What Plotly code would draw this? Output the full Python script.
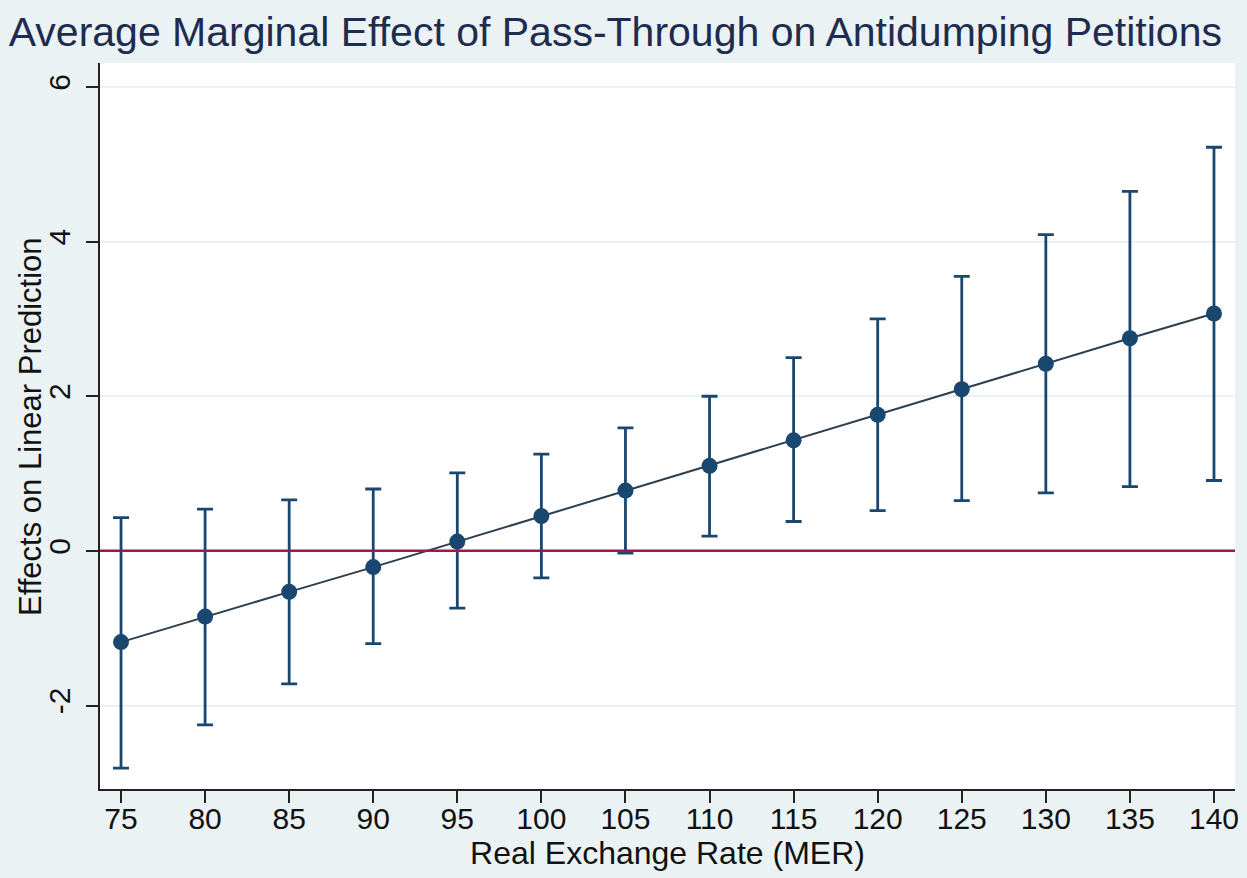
import plotly.graph_objects as go

rate = [75, 80, 85, 90, 95, 100, 105, 110, 115, 120, 125, 130, 135, 140]
effect = [-1.18, -0.85, -0.53, -0.21, 0.12, 0.45, 0.78, 1.10, 1.43, 1.76, 2.09, 2.42, 2.75, 3.07]
upper = [0.43, 0.54, 0.66, 0.80, 1.01, 1.25, 1.59, 2.00, 2.50, 3.00, 3.55, 4.09, 4.65, 5.22]
lower = [-2.81, -2.25, -1.72, -1.20, -0.74, -0.35, -0.03, 0.19, 0.38, 0.52, 0.65, 0.75, 0.83, 0.91]
x_ticks = list(range(75, 141, 5))
y_ticks = [-2, 0, 2, 4, 6]
y_labels = ["-2", "0", "2", "4", "6"]

navy = "#1a476f"
bg = "#eaf2f3"

fig = go.Figure()
fig.add_trace(go.Scatter(
    x=rate, y=effect, mode="lines+markers",
    line=dict(color="#2d3e50", width=2),
    marker=dict(color=navy, size=16),
    error_y=dict(type="data", symmetric=False,
                 array=[u - e for u, e in zip(upper, effect)],
                 arrayminus=[e - l for e, l in zip(effect, lower)],
                 color=navy, thickness=2.8, width=8),
    showlegend=False,
))
fig.add_hline(y=0, line=dict(color="#a0184a", width=2.5))

font_fam = "Liberation Sans, Arial, sans-serif"
fig.update_layout(
    width=1247, height=878,
    paper_bgcolor=bg, plot_bgcolor="white",
    margin=dict(l=100, r=12, t=63, b=89),
    font=dict(family=font_fam, color="#111111"),
    title=dict(text="Average Marginal Effect of Pass-Through on Antidumping Petitions",
               x=0.007, xanchor="left", y=0.964, yanchor="middle",
               font=dict(size=41, color="#1e2d4f", family=font_fam)),
    xaxis=dict(range=[73.75, 141.25], tickvals=x_ticks, ticks="outside", ticklen=12,
               tickcolor="#222", tickwidth=1.5, showline=True, linecolor="#222", linewidth=1.5,
               showgrid=False, zeroline=False, tickfont=dict(size=30), automargin=False,
               ticklabelstandoff=-10,
               title=dict(text="Real Exchange Rate (MER)", font=dict(size=32), standoff=0)),
    yaxis=dict(range=[-3.08, 6.31], tickvals=y_ticks, ticktext=y_labels, ticks="outside", ticklen=12,
               tickcolor="#222", tickwidth=1.5, showline=True, linecolor="#222", linewidth=1.5,
               showgrid=True, gridcolor=bg, gridwidth=2, zeroline=False, automargin=False,
               tickangle=-90, tickfont=dict(size=30), ticklabelstandoff=4),
    annotations=[dict(text="Effects on Linear Prediction", textangle=-90,
                      xref="paper", yref="paper", x=-0.0617, y=0.5,
                      xanchor="center", yanchor="middle", showarrow=False,
                      font=dict(size=31, color="#111111"))],
)

fig.write_html("out.html")
